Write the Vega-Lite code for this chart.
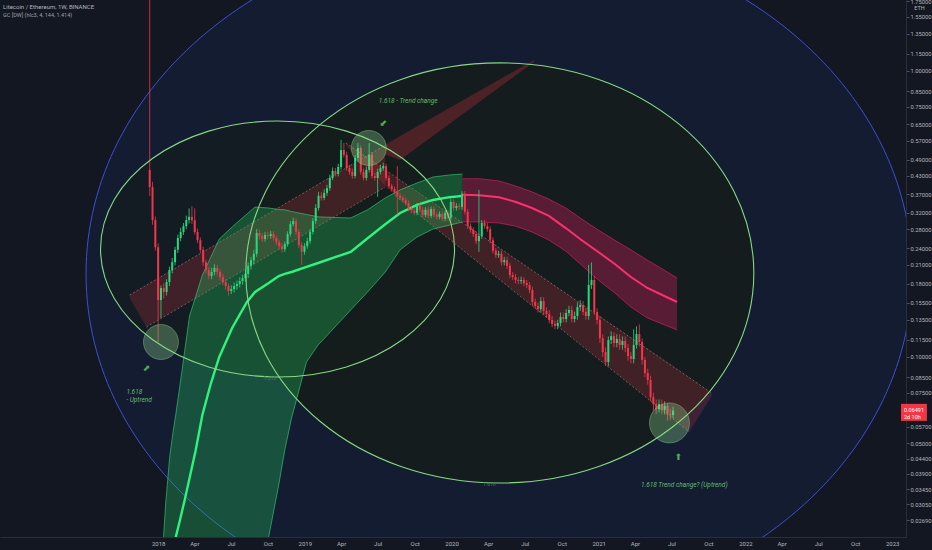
{
"$schema": "https://vega.github.io/schema/vega-lite/v6.json",
"width": 906, "height": 537,
"autosize": {"type": "none"},
"padding": {"left": 0, "top": 0, "right": 26, "bottom": 13},
"background": "#131722",
"config": {"view": {"stroke": null}, "font": "Roboto"},
"title": {"text": "Litecoin / Ethereum, 1W, BINANCE", "subtitle": "GC [DW] (hlc3, 4, 144, 1.414)", "anchor": "start", "frame": "group", "orient": "top", "offset": -20, "dx": 3, "fontSize": 6, "subtitleFontSize": 5.5, "fontWeight": "normal", "color": "#b2b5be", "subtitleColor": "#a0a3ac", "font": "Roboto", "subtitleFont": "Roboto", "subtitlePadding": 3},
"datasets": {
"blue": [{"d": "2020-04-28", "p": 0.1951}],
"midE": [{"d": "2020-04-30", "p": 0.1967}],
"leftE": [{"d": "2018-10-25", "p": 0.2385}],
"circS": [{"d": "2018-01-08", "p": 0.1128}, {"d": "2019-06-09", "p": 0.538}],
"circL": [{"d": "2021-06-26", "p": 0.0588}],
"chan": [
{"g": "up", "d": "2017-10-22", "hi": 0.1647, "lo": 0.1607},
{"g": "up", "d": "2017-12-03", "hi": 0.1785, "lo": 0.1273},
{"g": "up", "d": "2019-07-20", "hi": 0.551, "lo": 0.393},
{"g": "dn", "d": "2019-04-13", "hi": 0.56, "lo": 0.5466},
{"g": "dn", "d": "2019-08-14", "hi": 0.426, "lo": 0.366},
{"g": "dn", "d": "2021-08-14", "hi": 0.0851, "lo": 0.0547},
{"g": "dn", "d": "2021-10-09", "hi": 0.0748, "lo": 0.0731}],
"wedge": [
{"d": "2019-07-20", "hi": 0.551, "lo": 0.51},
{"d": "2019-08-26", "hi": 0.5926, "lo": 0.488},
{"d": "2020-07-24", "hi": 1.0927, "lo": 1.075}],
"chanLines": [
{"g": "ut", "d": "2017-10-22", "p": 0.1647}, {"g": "ut", "d": "2019-07-20", "p": 0.551},
{"g": "ub", "d": "2017-12-03", "p": 0.1273}, {"g": "ub", "d": "2019-07-20", "p": 0.393},
{"g": "dt", "d": "2019-04-13", "p": 0.56}, {"g": "dt", "d": "2021-10-09", "p": 0.0748},
{"g": "db", "d": "2019-08-14", "p": 0.366}, {"g": "db", "d": "2021-08-14", "p": 0.0547}],
"gband": [
{"d": "2018-01-13", "hi": 0.022, "mid": 0.015, "lo": 0.01},
{"d": "2018-01-20", "hi": 0.0311, "mid": 0.015, "lo": 0.01},
{"d": "2018-01-30", "hi": 0.0451, "mid": 0.015, "lo": 0.01},
{"d": "2018-02-06", "hi": 0.0534, "mid": 0.0195, "lo": 0.01},
{"d": "2018-02-14", "hi": 0.0632, "mid": 0.0235, "lo": 0.01},
{"d": "2018-02-24", "hi": 0.0792, "mid": 0.0268, "lo": 0.01},
{"d": "2018-03-08", "hi": 0.1049, "mid": 0.0316, "lo": 0.01},
{"d": "2018-03-20", "hi": 0.1391, "mid": 0.0377, "lo": 0.01},
{"d": "2018-04-04", "hi": 0.1621, "mid": 0.0469, "lo": 0.01},
{"d": "2018-04-21", "hi": 0.1934, "mid": 0.0627, "lo": 0.01},
{"d": "2018-05-11", "hi": 0.2219, "mid": 0.0798, "lo": 0.01},
{"d": "2018-06-02", "hi": 0.2585, "mid": 0.1, "lo": 0.01},
{"d": "2018-07-04", "hi": 0.2848, "mid": 0.1263, "lo": 0.01},
{"d": "2018-08-10", "hi": 0.3162, "mid": 0.1557, "lo": 0.01},
{"d": "2018-08-30", "hi": 0.3345, "mid": 0.1688, "lo": 0.01},
{"d": "2018-10-03", "hi": 0.3318, "mid": 0.1814, "lo": 0.0235},
{"d": "2018-10-28", "hi": 0.3279, "mid": 0.1919, "lo": 0.0357},
{"d": "2018-11-12", "hi": 0.327, "mid": 0.1951, "lo": 0.0473},
{"d": "2018-11-29", "hi": 0.3226, "mid": 0.1982, "lo": 0.0612},
{"d": "2019-01-05", "hi": 0.3149, "mid": 0.2064, "lo": 0.096},
{"d": "2019-02-03", "hi": 0.309, "mid": 0.2131, "lo": 0.1101},
{"d": "2019-03-19", "hi": 0.3074, "mid": 0.2237, "lo": 0.1283},
{"d": "2019-04-25", "hi": 0.3062, "mid": 0.2329, "lo": 0.146},
{"d": "2019-06-06", "hi": 0.327, "mid": 0.26, "lo": 0.1688},
{"d": "2019-07-20", "hi": 0.36, "mid": 0.291, "lo": 0.1982},
{"d": "2019-08-26", "hi": 0.384, "mid": 0.3188, "lo": 0.237},
{"d": "2019-10-07", "hi": 0.4058, "mid": 0.34, "lo": 0.2627},
{"d": "2019-11-16", "hi": 0.4259, "mid": 0.354, "lo": 0.2802},
{"d": "2019-12-27", "hi": 0.433, "mid": 0.362, "lo": 0.289},
{"d": "2020-01-28", "hi": 0.4363, "mid": 0.366, "lo": 0.2965}],
"rband": [
{"d": "2020-01-28", "hi": 0.42, "mid": 0.369, "lo": 0.2965},
{"d": "2020-03-10", "hi": 0.42, "mid": 0.368, "lo": 0.2965},
{"d": "2020-04-28", "hi": 0.4125, "mid": 0.362, "lo": 0.2941},
{"d": "2020-06-09", "hi": 0.3958, "mid": 0.3483, "lo": 0.2867},
{"d": "2020-07-19", "hi": 0.3779, "mid": 0.3318, "lo": 0.2736},
{"d": "2020-08-30", "hi": 0.3566, "mid": 0.3115, "lo": 0.2564},
{"d": "2020-10-11", "hi": 0.332, "mid": 0.2823, "lo": 0.2345},
{"d": "2020-11-19", "hi": 0.3042, "mid": 0.2564, "lo": 0.2098},
{"d": "2020-12-31", "hi": 0.278, "mid": 0.2329, "lo": 0.1858},
{"d": "2021-02-10", "hi": 0.256, "mid": 0.2114, "lo": 0.1674},
{"d": "2021-03-22", "hi": 0.237, "mid": 0.1904, "lo": 0.1495},
{"d": "2021-05-02", "hi": 0.218, "mid": 0.1743, "lo": 0.1369},
{"d": "2021-06-08", "hi": 0.2031, "mid": 0.1647, "lo": 0.1304},
{"d": "2021-07-15", "hi": 0.1889, "mid": 0.1557, "lo": 0.1243}],
"candles": [
{"d":"2017-12-11","o":0.451,"h":2.6,"l":0.366,"c":0.393},
{"d":"2017-12-18","o":0.393,"h":0.41,"l":0.29,"c":0.301},
{"d":"2017-12-25","o":0.301,"h":0.31,"l":0.235,"c":0.242},
{"d":"2018-01-01","o":0.242,"h":0.25,"l":0.1128,"c":0.1582},
{"d":"2018-01-08","o":0.1582,"h":0.178,"l":0.1369,"c":0.1742},
{"d":"2018-01-15","o":0.1742,"h":0.181,"l":0.16,"c":0.1688},
{"d":"2018-01-22","o":0.1688,"h":0.187,"l":0.164,"c":0.1828},
{"d":"2018-01-29","o":0.1828,"h":0.207,"l":0.177,"c":0.2015},
{"d":"2018-02-05","o":0.2015,"h":0.222,"l":0.196,"c":0.2145},
{"d":"2018-02-12","o":0.2145,"h":0.243,"l":0.209,"c":0.237},
{"d":"2018-02-19","o":0.237,"h":0.268,"l":0.231,"c":0.2606},
{"d":"2018-02-26","o":0.2606,"h":0.283,"l":0.254,"c":0.2736},
{"d":"2018-03-05","o":0.2736,"h":0.294,"l":0.267,"c":0.2867},
{"d":"2018-03-12","o":0.2867,"h":0.312,"l":0.28,"c":0.301},
{"d":"2018-03-19","o":0.301,"h":0.331,"l":0.293,"c":0.309},
{"d":"2018-03-26","o":0.309,"h":0.337,"l":0.292,"c":0.301},
{"d":"2018-04-02","o":0.301,"h":0.331,"l":0.268,"c":0.2736},
{"d":"2018-04-09","o":0.2736,"h":0.281,"l":0.25,"c":0.256},
{"d":"2018-04-16","o":0.256,"h":0.262,"l":0.231,"c":0.237},
{"d":"2018-04-23","o":0.237,"h":0.243,"l":0.208,"c":0.2145},
{"d":"2018-04-30","o":0.2145,"h":0.219,"l":0.196,"c":0.2015},
{"d":"2018-05-07","o":0.2015,"h":0.206,"l":0.187,"c":0.1918},
{"d":"2018-05-14","o":0.1918,"h":0.205,"l":0.187,"c":0.1983},
{"d":"2018-05-21","o":0.1983,"h":0.211,"l":0.193,"c":0.205},
{"d":"2018-05-28","o":0.205,"h":0.21,"l":0.193,"c":0.1983},
{"d":"2018-06-04","o":0.1983,"h":0.203,"l":0.185,"c":0.1903},
{"d":"2018-06-11","o":0.1903,"h":0.195,"l":0.178,"c":0.1828},
{"d":"2018-06-18","o":0.1828,"h":0.187,"l":0.172,"c":0.1771},
{"d":"2018-06-25","o":0.1771,"h":0.181,"l":0.164,"c":0.1701},
{"d":"2018-07-02","o":0.1701,"h":0.178,"l":0.166,"c":0.1728},
{"d":"2018-07-09","o":0.1728,"h":0.182,"l":0.168,"c":0.1771},
{"d":"2018-07-16","o":0.1771,"h":0.185,"l":0.172,"c":0.1799},
{"d":"2018-07-23","o":0.1799,"h":0.19,"l":0.175,"c":0.1843},
{"d":"2018-07-30","o":0.1843,"h":0.194,"l":0.179,"c":0.1888},
{"d":"2018-08-06","o":0.1888,"h":0.201,"l":0.183,"c":0.1951},
{"d":"2018-08-13","o":0.1951,"h":0.214,"l":0.189,"c":0.2083},
{"d":"2018-08-20","o":0.2083,"h":0.224,"l":0.202,"c":0.218},
{"d":"2018-08-27","o":0.218,"h":0.237,"l":0.211,"c":0.2294},
{"d":"2018-09-03","o":0.2294,"h":0.28,"l":0.224,"c":0.2713},
{"d":"2018-09-10","o":0.2713,"h":0.279,"l":0.258,"c":0.2649},
{"d":"2018-09-17","o":0.2649,"h":0.271,"l":0.252,"c":0.2585},
{"d":"2018-09-24","o":0.2585,"h":0.274,"l":0.253,"c":0.267},
{"d":"2018-10-01","o":0.267,"h":0.274,"l":0.258,"c":0.2649},
{"d":"2018-10-08","o":0.2649,"h":0.276,"l":0.259,"c":0.2691},
{"d":"2018-10-15","o":0.2691,"h":0.275,"l":0.255,"c":0.2606},
{"d":"2018-10-22","o":0.2606,"h":0.266,"l":0.246,"c":0.2519},
{"d":"2018-10-29","o":0.2519,"h":0.257,"l":0.238,"c":0.244},
{"d":"2018-11-05","o":0.244,"h":0.249,"l":0.232,"c":0.2381},
{"d":"2018-11-12","o":0.2381,"h":0.253,"l":0.233,"c":0.2478},
{"d":"2018-11-19","o":0.2478,"h":0.275,"l":0.243,"c":0.2691},
{"d":"2018-11-26","o":0.2691,"h":0.299,"l":0.264,"c":0.2914},
{"d":"2018-12-03","o":0.2914,"h":0.307,"l":0.286,"c":0.2986},
{"d":"2018-12-10","o":0.2986,"h":0.305,"l":0.268,"c":0.2736},
{"d":"2018-12-17","o":0.2736,"h":0.28,"l":0.24,"c":0.246},
{"d":"2018-12-24","o":0.246,"h":0.252,"l":0.21,"c":0.2332},
{"d":"2018-12-31","o":0.2332,"h":0.25,"l":0.228,"c":0.244},
{"d":"2019-01-07","o":0.244,"h":0.261,"l":0.239,"c":0.254},
{"d":"2019-01-14","o":0.254,"h":0.28,"l":0.249,"c":0.2736},
{"d":"2019-01-21","o":0.2736,"h":0.306,"l":0.268,"c":0.2986},
{"d":"2019-01-28","o":0.2986,"h":0.342,"l":0.292,"c":0.3318},
{"d":"2019-02-04","o":0.3318,"h":0.378,"l":0.325,"c":0.366},
{"d":"2019-02-11","o":0.366,"h":0.377,"l":0.352,"c":0.36},
{"d":"2019-02-18","o":0.36,"h":0.386,"l":0.353,"c":0.3748},
{"d":"2019-02-25","o":0.3748,"h":0.4,"l":0.366,"c":0.3894},
{"d":"2019-03-04","o":0.3894,"h":0.434,"l":0.381,"c":0.4226},
{"d":"2019-03-11","o":0.4226,"h":0.46,"l":0.415,"c":0.4474},
{"d":"2019-03-18","o":0.4474,"h":0.458,"l":0.428,"c":0.4366},
{"d":"2019-03-25","o":0.4366,"h":0.474,"l":0.428,"c":0.4615},
{"d":"2019-04-01","o":0.4615,"h":0.574,"l":0.452,"c":0.529},
{"d":"2019-04-08","o":0.529,"h":0.56,"l":0.498,"c":0.509},
{"d":"2019-04-15","o":0.509,"h":0.522,"l":0.448,"c":0.4577},
{"d":"2019-04-22","o":0.4577,"h":0.47,"l":0.434,"c":0.4438},
{"d":"2019-04-29","o":0.4438,"h":0.456,"l":0.42,"c":0.4295},
{"d":"2019-05-06","o":0.4295,"h":0.509,"l":0.421,"c":0.4968},
{"d":"2019-05-13","o":0.4968,"h":0.56,"l":0.487,"c":0.5378},
{"d":"2019-05-20","o":0.5378,"h":0.548,"l":0.434,"c":0.4438},
{"d":"2019-05-27","o":0.4438,"h":0.455,"l":0.414,"c":0.4226},
{"d":"2019-06-03","o":0.4226,"h":0.462,"l":0.414,"c":0.451},
{"d":"2019-06-10","o":0.451,"h":0.56,"l":0.442,"c":0.509},
{"d":"2019-06-17","o":0.509,"h":0.52,"l":0.421,"c":0.4295},
{"d":"2019-06-24","o":0.4295,"h":0.44,"l":0.414,"c":0.4226},
{"d":"2019-07-01","o":0.4226,"h":0.455,"l":0.363,"c":0.4438},
{"d":"2019-07-08","o":0.4438,"h":0.47,"l":0.435,"c":0.4577},
{"d":"2019-07-15","o":0.4577,"h":0.478,"l":0.448,"c":0.465},
{"d":"2019-07-22","o":0.465,"h":0.474,"l":0.414,"c":0.4226},
{"d":"2019-07-29","o":0.4226,"h":0.431,"l":0.388,"c":0.3958},
{"d":"2019-08-05","o":0.3958,"h":0.404,"l":0.379,"c":0.3862},
{"d":"2019-08-12","o":0.3862,"h":0.394,"l":0.371,"c":0.3779},
{"d":"2019-08-19","o":0.3779,"h":0.465,"l":0.314,"c":0.366},
{"d":"2019-08-26","o":0.366,"h":0.374,"l":0.353,"c":0.36},
{"d":"2019-09-02","o":0.36,"h":0.367,"l":0.347,"c":0.354},
{"d":"2019-09-09","o":0.354,"h":0.361,"l":0.339,"c":0.3455},
{"d":"2019-09-16","o":0.3455,"h":0.353,"l":0.323,"c":0.3291},
{"d":"2019-09-23","o":0.3291,"h":0.336,"l":0.318,"c":0.3244},
{"d":"2019-09-30","o":0.3244,"h":0.331,"l":0.313,"c":0.3192},
{"d":"2019-10-07","o":0.3192,"h":0.345,"l":0.313,"c":0.3373},
{"d":"2019-10-14","o":0.3373,"h":0.344,"l":0.321,"c":0.327},
{"d":"2019-10-21","o":0.327,"h":0.334,"l":0.308,"c":0.314},
{"d":"2019-10-28","o":0.314,"h":0.334,"l":0.308,"c":0.327},
{"d":"2019-11-04","o":0.327,"h":0.334,"l":0.306,"c":0.3115},
{"d":"2019-11-11","o":0.3115,"h":0.336,"l":0.306,"c":0.3291},
{"d":"2019-11-18","o":0.3291,"h":0.336,"l":0.308,"c":0.314},
{"d":"2019-11-25","o":0.314,"h":0.32,"l":0.303,"c":0.309},
{"d":"2019-12-02","o":0.309,"h":0.323,"l":0.303,"c":0.3165},
{"d":"2019-12-09","o":0.3165,"h":0.323,"l":0.298,"c":0.304},
{"d":"2019-12-16","o":0.304,"h":0.326,"l":0.298,"c":0.3192},
{"d":"2019-12-23","o":0.3192,"h":0.326,"l":0.3,"c":0.3065},
{"d":"2019-12-30","o":0.3065,"h":0.356,"l":0.3,"c":0.3483},
{"d":"2020-01-06","o":0.3483,"h":0.356,"l":0.325,"c":0.3318},
{"d":"2020-01-13","o":0.3318,"h":0.345,"l":0.325,"c":0.3373},
{"d":"2020-01-20","o":0.3373,"h":0.345,"l":0.327,"c":0.3346},
{"d":"2020-01-27","o":0.3346,"h":0.38,"l":0.327,"c":0.3717},
{"d":"2020-02-03","o":0.3717,"h":0.38,"l":0.315,"c":0.3218},
{"d":"2020-02-10","o":0.3218,"h":0.329,"l":0.28,"c":0.2867},
{"d":"2020-02-17","o":0.2867,"h":0.293,"l":0.272,"c":0.278},
{"d":"2020-02-24","o":0.278,"h":0.284,"l":0.263,"c":0.2691},
{"d":"2020-03-02","o":0.2691,"h":0.275,"l":0.248,"c":0.254},
{"d":"2020-03-09","o":0.254,"h":0.384,"l":0.233,"c":0.2649},
{"d":"2020-03-16","o":0.2649,"h":0.301,"l":0.259,"c":0.294},
{"d":"2020-03-23","o":0.294,"h":0.301,"l":0.281,"c":0.2867},
{"d":"2020-03-30","o":0.2867,"h":0.294,"l":0.274,"c":0.2798},
{"d":"2020-04-06","o":0.2798,"h":0.286,"l":0.25,"c":0.256},
{"d":"2020-04-13","o":0.256,"h":0.262,"l":0.23,"c":0.2351},
{"d":"2020-04-20","o":0.2351,"h":0.24,"l":0.222,"c":0.227},
{"d":"2020-04-27","o":0.227,"h":0.235,"l":0.222,"c":0.2294},
{"d":"2020-05-04","o":0.2294,"h":0.235,"l":0.209,"c":0.2145},
{"d":"2020-05-11","o":0.2145,"h":0.224,"l":0.209,"c":0.218},
{"d":"2020-05-18","o":0.218,"h":0.224,"l":0.203,"c":0.2083},
{"d":"2020-05-25","o":0.2083,"h":0.213,"l":0.189,"c":0.1934},
{"d":"2020-06-01","o":0.1934,"h":0.198,"l":0.186,"c":0.1903},
{"d":"2020-06-08","o":0.1903,"h":0.195,"l":0.181,"c":0.1858},
{"d":"2020-06-15","o":0.1858,"h":0.19,"l":0.18,"c":0.1843},
{"d":"2020-06-22","o":0.1843,"h":0.191,"l":0.18,"c":0.1858},
{"d":"2020-06-29","o":0.1858,"h":0.19,"l":0.177,"c":0.1813},
{"d":"2020-07-06","o":0.1813,"h":0.186,"l":0.174,"c":0.1785},
{"d":"2020-07-13","o":0.1785,"h":0.183,"l":0.167,"c":0.1715},
{"d":"2020-07-20","o":0.1715,"h":0.176,"l":0.151,"c":0.1557},
{"d":"2020-07-27","o":0.1557,"h":0.16,"l":0.147,"c":0.1508},
{"d":"2020-08-03","o":0.1508,"h":0.155,"l":0.143,"c":0.1471},
{"d":"2020-08-10","o":0.1471,"h":0.162,"l":0.143,"c":0.1569},
{"d":"2020-08-17","o":0.1569,"h":0.162,"l":0.14,"c":0.1448},
{"d":"2020-08-24","o":0.1448,"h":0.149,"l":0.137,"c":0.1413},
{"d":"2020-08-31","o":0.1413,"h":0.146,"l":0.131,"c":0.1347},
{"d":"2020-09-07","o":0.1347,"h":0.139,"l":0.127,"c":0.1304},
{"d":"2020-09-14","o":0.1304,"h":0.134,"l":0.125,"c":0.1284},
{"d":"2020-09-21","o":0.1284,"h":0.135,"l":0.125,"c":0.1315},
{"d":"2020-09-28","o":0.1315,"h":0.143,"l":0.128,"c":0.138},
{"d":"2020-10-05","o":0.138,"h":0.143,"l":0.132,"c":0.1357},
{"d":"2020-10-12","o":0.1357,"h":0.147,"l":0.132,"c":0.1425},
{"d":"2020-10-19","o":0.1425,"h":0.151,"l":0.139,"c":0.146},
{"d":"2020-10-26","o":0.146,"h":0.151,"l":0.132,"c":0.1357},
{"d":"2020-11-02","o":0.1357,"h":0.144,"l":0.132,"c":0.1391},
{"d":"2020-11-09","o":0.1391,"h":0.155,"l":0.135,"c":0.1496},
{"d":"2020-11-16","o":0.1496,"h":0.158,"l":0.145,"c":0.152},
{"d":"2020-11-23","o":0.152,"h":0.157,"l":0.14,"c":0.1437},
{"d":"2020-11-30","o":0.1437,"h":0.148,"l":0.135,"c":0.1391},
{"d":"2020-12-07","o":0.1391,"h":0.21,"l":0.135,"c":0.1785},
{"d":"2020-12-14","o":0.1785,"h":0.214,"l":0.173,"c":0.1858},
{"d":"2020-12-21","o":0.1858,"h":0.192,"l":0.14,"c":0.1437},
{"d":"2020-12-28","o":0.1437,"h":0.148,"l":0.13,"c":0.1347},
{"d":"2021-01-04","o":0.1347,"h":0.139,"l":0.112,"c":0.1164},
{"d":"2021-01-11","o":0.1164,"h":0.12,"l":0.1,"c":0.1041},
{"d":"2021-01-18","o":0.1041,"h":0.108,"l":0.093,"c":0.096},
{"d":"2021-01-25","o":0.096,"h":0.118,"l":0.093,"c":0.1146},
{"d":"2021-02-01","o":0.1146,"h":0.123,"l":0.111,"c":0.1183},
{"d":"2021-02-08","o":0.1183,"h":0.122,"l":0.108,"c":0.1119},
{"d":"2021-02-15","o":0.1119,"h":0.12,"l":0.108,"c":0.1155},
{"d":"2021-02-22","o":0.1155,"h":0.12,"l":0.106,"c":0.1101},
{"d":"2021-03-01","o":0.1101,"h":0.118,"l":0.106,"c":0.1137},
{"d":"2021-03-08","o":0.1137,"h":0.118,"l":0.104,"c":0.1075},
{"d":"2021-03-15","o":0.1075,"h":0.111,"l":0.097,"c":0.1008},
{"d":"2021-03-22","o":0.1008,"h":0.104,"l":0.095,"c":0.0984},
{"d":"2021-03-29","o":0.0984,"h":0.125,"l":0.095,"c":0.1101},
{"d":"2021-04-05","o":0.1101,"h":0.128,"l":0.107,"c":0.1203},
{"d":"2021-04-12","o":0.1203,"h":0.13,"l":0.109,"c":0.1128},
{"d":"2021-04-19","o":0.1128,"h":0.116,"l":0.094,"c":0.0976},
{"d":"2021-04-26","o":0.0976,"h":0.1,"l":0.085,"c":0.0879},
{"d":"2021-05-03","o":0.0879,"h":0.091,"l":0.08,"c":0.0831},
{"d":"2021-05-10","o":0.0831,"h":0.086,"l":0.07,"c":0.0724},
{"d":"2021-05-17","o":0.0724,"h":0.075,"l":0.065,"c":0.0684},
{"d":"2021-05-24","o":0.0684,"h":0.071,"l":0.063,"c":0.0657},
{"d":"2021-05-31","o":0.0657,"h":0.071,"l":0.064,"c":0.0684},
{"d":"2021-06-07","o":0.0684,"h":0.071,"l":0.063,"c":0.0653},
{"d":"2021-06-14","o":0.0653,"h":0.07,"l":0.063,"c":0.0674},
{"d":"2021-06-21","o":0.0674,"h":0.069,"l":0.06,"c":0.0632},
{"d":"2021-06-28","o":0.0632,"h":0.066,"l":0.06,"c":0.0627},
{"d":"2021-07-05","o":0.0627,"h":0.067,"l":0.061,"c":0.06491}],
"annL": [{"d": "2019-07-04", "p": 0.785, "t": "1.618 - Trend change"}, {"d": "2017-10-14", "p": 0.0754, "t": "1.618"}, {"d": "2017-10-14", "p": 0.0707, "t": "- Uptrend"}],
"annC": [{"d": "2021-08-02", "p": 0.0357, "t": "1.618 Trend change? (Uptrend)"}],
"annS": [{"d": "2018-10-06", "p": 0.0844, "t": "1.618"}, {"d": "2020-04-04", "p": 0.036, "t": "1.618"}],
"arrows": [{"d": "2017-12-03", "p": 0.0915, "t": "⬈"}, {"d": "2019-07-15", "p": 0.658, "t": "⬋"}, {"d": "2021-07-18", "p": 0.0447, "t": "⬆"}],
"last": [{"d": "2023-01-23", "p": 0.06491}]
},
"encoding": {
"x": {"field": "d", "type": "temporal", "title": null,
 "scale": {"type": "utc", "nice": false, "domain": [{"year": 2016, "month": 12, "date": 16, "utc": true}, {"year": 2023, "month": 1, "date": 23, "utc": true}]},
 "axis": {"orient": "bottom", "grid": false, "ticks": false, "labelFontSize": 6, "labelColor": "#b2b5be", "labelFont": "Roboto", "domainColor": "#2a2e39", "labelPadding": 3, "labelOverlap": false, "labelFlush": false,
  "values": [{"year":2018,"month":1,"date":1,"utc":true},{"year":2018,"month":4,"date":1,"utc":true},{"year":2018,"month":7,"date":1,"utc":true},{"year":2018,"month":10,"date":1,"utc":true},{"year":2019,"month":1,"date":1,"utc":true},{"year":2019,"month":4,"date":1,"utc":true},{"year":2019,"month":7,"date":1,"utc":true},{"year":2019,"month":10,"date":1,"utc":true},{"year":2020,"month":1,"date":1,"utc":true},{"year":2020,"month":4,"date":1,"utc":true},{"year":2020,"month":7,"date":1,"utc":true},{"year":2020,"month":10,"date":1,"utc":true},{"year":2021,"month":1,"date":1,"utc":true},{"year":2021,"month":4,"date":1,"utc":true},{"year":2021,"month":7,"date":1,"utc":true},{"year":2021,"month":10,"date":1,"utc":true},{"year":2022,"month":1,"date":1,"utc":true},{"year":2022,"month":4,"date":1,"utc":true},{"year":2022,"month":7,"date":1,"utc":true},{"year":2022,"month":10,"date":1,"utc":true},{"year":2023,"month":1,"date":1,"utc":true}],
  "labelExpr": "utcFormat(datum.value, '%m') == '01' ? utcFormat(datum.value, '%Y') : utcFormat(datum.value, '%b')"}},
"y": {"field": "p", "type": "quantitative", "title": null,
 "scale": {"type": "log", "nice": false, "domain": [0.02347, 1.771]},
 "axis": {"orient": "right", "grid": false, "values": [1.75,1.55,1.35,1.15,1,0.85,0.75,0.65,0.57,0.49,0.43,0.37,0.32,0.28,0.24,0.21,0.18,0.155,0.135,0.115,0.1,0.085,0.075,0.057,0.05,0.044,0.039,0.0345,0.0305,0.0269],
  "format": ".5f", "labelFontSize": 5.8, "labelColor": "#b2b5be", "labelFont": "Roboto", "tickSize": 3, "tickColor": "#50535e", "domainColor": "#2a2e39", "labelPadding": 1, "labelOverlap": false, "labelFlush": false,
  "title": "ETH", "titleAngle": 0, "titleX": 13, "titleY": 7, "titleFontSize": 5.5, "titleFontWeight": "normal", "titleColor": "#b2b5be", "titleAlign": "center", "titleBaseline": "middle", "titleFont": "Roboto"}}
},
"layer": [
{"data": {"name": "blue"}, "mark": {"type": "point", "shape": "M-1,0A1,0.828,0,1,1,1,0A1,0.828,0,1,1,-1,0Z", "size": 682276, "filled": true, "fill": "#2962ff", "fillOpacity": 0.07, "stroke": "#3d4fd0", "strokeWidth": 1, "opacity": 1, "clip": true}},
{"data": {"name": "midE"}, "mark": {"type": "point", "shape": "M-1,0A1,0.827,0,1,1,1,0A1,0.827,0,1,1,-1,0Z", "size": 258064, "filled": true, "fill": "#141d1a", "fillOpacity": 0.8, "strokeWidth": 0, "opacity": 1, "clip": true}},
{"data": {"name": "leftE"}, "mark": {"type": "point", "shape": "M-1,0A1,0.723,0,1,1,1,0A1,0.723,0,1,1,-1,0Z", "size": 125316, "filled": true, "fill": "#141d1a", "fillOpacity": 0.6, "strokeWidth": 0, "opacity": 1, "clip": true}},
{"data": {"name": "chan"}, "mark": {"type": "area", "color": "#f23645", "opacity": 0.2, "clip": true},
 "encoding": {"y": {"field": "hi", "type": "quantitative", "title": null, "scale": {"type": "log", "nice": false, "domain": [0.02347, 1.771]}}, "y2": {"field": "lo"}, "detail": {"field": "g"}}},
{"data": {"name": "wedge"}, "mark": {"type": "area", "color": "#d2333f", "opacity": 0.3, "clip": true},
 "encoding": {"y": {"field": "hi", "type": "quantitative", "title": null, "scale": {"type": "log", "nice": false, "domain": [0.02347, 1.771]}}, "y2": {"field": "lo"}}},
{"data": {"name": "chanLines"}, "mark": {"type": "line", "color": "#d8a8a8", "opacity": 0.55, "strokeWidth": 0.8, "strokeDash": [2, 2], "clip": true},
 "encoding": {"detail": {"field": "g"}}},
{"data": {"name": "gband"}, "mark": {"type": "area", "color": "#22c55e", "opacity": 0.32, "clip": true},
 "encoding": {"y": {"field": "hi", "type": "quantitative", "title": null, "scale": {"type": "log", "nice": false, "domain": [0.02347, 1.771]}}, "y2": {"field": "lo"}}},
{"data": {"name": "gband"}, "mark": {"type": "line", "color": "#3ddc84", "opacity": 0.7, "strokeWidth": 0.8, "clip": true},
 "encoding": {"y": {"field": "hi", "type": "quantitative", "title": null, "scale": {"type": "log", "nice": false, "domain": [0.02347, 1.771]}}}},
{"data": {"name": "gband"}, "mark": {"type": "line", "color": "#3ddc84", "opacity": 0.7, "strokeWidth": 0.8, "clip": true},
 "encoding": {"y": {"field": "lo", "type": "quantitative", "title": null, "scale": {"type": "log", "nice": false, "domain": [0.02347, 1.771]}}}},
{"data": {"name": "gband"}, "mark": {"type": "line", "color": "#2ff27f", "strokeWidth": 2.4, "clip": true},
 "encoding": {"y": {"field": "mid", "type": "quantitative", "title": null, "scale": {"type": "log", "nice": false, "domain": [0.02347, 1.771]}}}},
{"data": {"name": "rband"}, "mark": {"type": "area", "color": "#e91e63", "opacity": 0.32, "clip": true},
 "encoding": {"y": {"field": "hi", "type": "quantitative", "title": null, "scale": {"type": "log", "nice": false, "domain": [0.02347, 1.771]}}, "y2": {"field": "lo"}}},
{"data": {"name": "rband"}, "mark": {"type": "line", "color": "#e91e63", "opacity": 0.75, "strokeWidth": 0.8, "clip": true},
 "encoding": {"y": {"field": "hi", "type": "quantitative", "title": null, "scale": {"type": "log", "nice": false, "domain": [0.02347, 1.771]}}}},
{"data": {"name": "rband"}, "mark": {"type": "line", "color": "#e91e63", "opacity": 0.75, "strokeWidth": 0.8, "clip": true},
 "encoding": {"y": {"field": "lo", "type": "quantitative", "title": null, "scale": {"type": "log", "nice": false, "domain": [0.02347, 1.771]}}}},
{"data": {"name": "rband"}, "mark": {"type": "line", "color": "#ff2e6e", "strokeWidth": 2, "clip": true},
 "encoding": {"y": {"field": "mid", "type": "quantitative", "title": null, "scale": {"type": "log", "nice": false, "domain": [0.02347, 1.771]}}}},
{"data": {"name": "candles"}, "mark": {"type": "rule", "strokeWidth": 0.8, "clip": true},
 "encoding": {"y": {"field": "l", "type": "quantitative", "title": null, "scale": {"type": "log", "nice": false, "domain": [0.02347, 1.771]}}, "y2": {"field": "h"},
  "color": {"condition": {"test": "datum.c >= datum.o", "value": "#26d97f"}, "value": "#f2364b"}}},
{"data": {"name": "candles"}, "mark": {"type": "bar", "width": 2, "clip": true},
 "encoding": {"y": {"field": "o", "type": "quantitative", "title": null, "scale": {"type": "log", "nice": false, "domain": [0.02347, 1.771]}}, "y2": {"field": "c"},
  "color": {"condition": {"test": "datum.c >= datum.o", "value": "#26d97f"}, "value": "#f2364b"}}},
{"data": {"name": "circS"}, "mark": {"type": "point", "shape": "circle", "size": 1225, "filled": true, "fill": "#8bd88b", "fillOpacity": 0.33, "stroke": "#8bd88b", "strokeOpacity": 0.5, "strokeWidth": 0.8, "opacity": 1, "clip": true}},
{"data": {"name": "circL"}, "mark": {"type": "point", "shape": "circle", "size": 1600, "filled": true, "fill": "#8bd88b", "fillOpacity": 0.33, "stroke": "#8bd88b", "strokeOpacity": 0.5, "strokeWidth": 0.8, "opacity": 1, "clip": true}},
{"data": {"name": "midE"}, "mark": {"type": "point", "shape": "M-1,0A1,0.827,0,1,1,1,0A1,0.827,0,1,1,-1,0Z", "size": 258064, "filled": false, "stroke": "#86d886", "strokeWidth": 1.1, "opacity": 1, "clip": true}},
{"data": {"name": "leftE"}, "mark": {"type": "point", "shape": "M-1,0A1,0.723,0,1,1,1,0A1,0.723,0,1,1,-1,0Z", "size": 125316, "filled": false, "stroke": "#86d886", "strokeWidth": 1.1, "opacity": 1, "clip": true}},
{"data": {"name": "annL"}, "mark": {"type": "text", "align": "left", "baseline": "middle", "fontSize": 6.5, "fontStyle": "italic", "font": "Roboto", "color": "#66bb6a", "clip": true},
 "encoding": {"text": {"field": "t", "type": "nominal"}}},
{"data": {"name": "annC"}, "mark": {"type": "text", "align": "center", "baseline": "middle", "fontSize": 6.5, "fontStyle": "italic", "font": "Roboto", "color": "#66bb6a", "clip": true},
 "encoding": {"text": {"field": "t", "type": "nominal"}}},
{"data": {"name": "annS"}, "mark": {"type": "text", "align": "center", "baseline": "middle", "fontSize": 5, "font": "Roboto", "color": "#4f7f55", "clip": true},
 "encoding": {"text": {"field": "t", "type": "nominal"}}},
{"data": {"name": "arrows"}, "mark": {"type": "text", "align": "center", "baseline": "middle", "fontSize": 9, "font": "DejaVu Sans", "color": "#4caf50", "clip": true},
 "encoding": {"text": {"field": "t", "type": "nominal"}}},
{"data": {"name": "last"}, "mark": {"type": "point", "shape": "M0,-0.8H3.05V1.2H0Z", "size": 289, "filled": true, "fill": "#f23645", "strokeWidth": 0, "opacity": 1}},
{"data": {"name": "last"}, "mark": {"type": "text", "text": ["0.06491", "2d 10h"], "align": "left", "baseline": "middle", "dx": 3, "dy": -0.5, "lineHeight": 7, "fontSize": 5.5, "font": "Roboto", "color": "#ffffff"}}
]
}
